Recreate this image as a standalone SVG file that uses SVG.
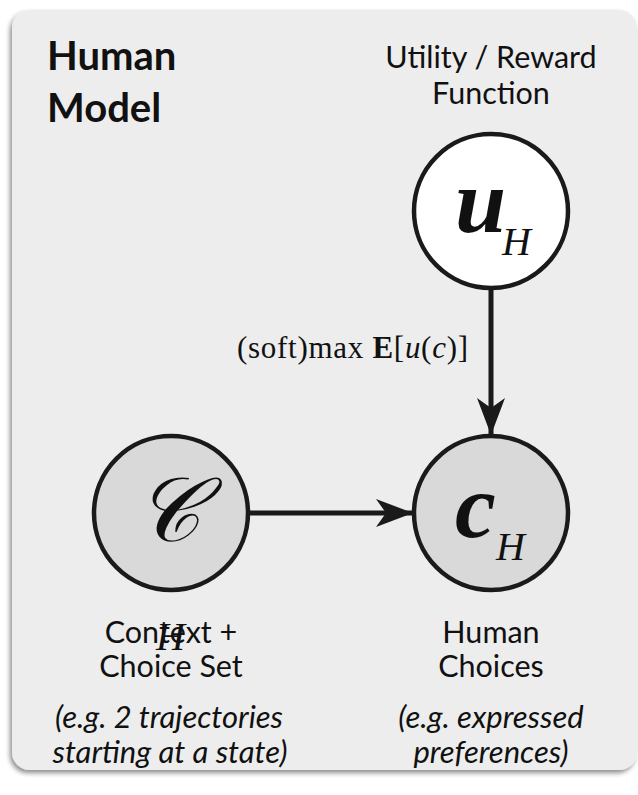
<svg xmlns="http://www.w3.org/2000/svg" width="638" height="795" viewBox="0 0 638 795">
  <defs>
    <filter id="panelShadow" x="-5%" y="-5%" width="110%" height="110%">
      <feGaussianBlur in="SourceAlpha" stdDeviation="2.5"/>
      <feOffset dx="-2" dy="3" result="blur"/>
      <feComponentTransfer><feFuncA type="linear" slope="0.45"/></feComponentTransfer>
      <feMerge><feMergeNode/><feMergeNode in="SourceGraphic"/></feMerge>
    </filter>
    <marker id="arrowHead" markerUnits="userSpaceOnUse" markerWidth="40" markerHeight="30" refX="37" refY="14" orient="auto">
      <path d="M37,14 L0,0 L10,14 L0,28 Z" fill="#1a1a1a"/>
    </marker>
  </defs>
  <style>
    .label { font-family: "Lato", "Liberation Sans", sans-serif; font-size: 30.5px; fill: #111; text-anchor: middle; }
    .note { font-family: "Lato", "Liberation Sans", sans-serif; font-size: 31px; font-style: italic; fill: #111; text-anchor: middle; }
    .title { font-family: "Lato", "Liberation Sans", sans-serif; font-size: 40px; font-weight: bold; fill: #111; }
    .math { font-family: "Liberation Serif", "DejaVu Serif", serif; fill: #111; }
    .node { stroke: #1a1a1a; stroke-width: 4.5; }
    .edge { stroke: #1a1a1a; stroke-width: 5; fill: none; marker-end: url(#arrowHead); }
  </style>

  <!-- panel -->
  <rect x="12" y="10" width="625" height="760" rx="18" ry="18" fill="#ededed" filter="url(#panelShadow)"/>

  <g id="title">
    <text class="title" x="47" y="70">Human</text>
    <text class="title" x="47" y="122">Model</text>
  </g>

  <!-- connectors -->
  <g id="connectors">
    <line class="edge" x1="491" y1="289" x2="491" y2="435"/>
    <line class="edge" x1="250" y1="513" x2="413" y2="513"/>
    <text class="math" x="237" y="358" font-size="31" textLength="231" lengthAdjust="spacing">(soft)max <tspan font-weight="bold">E</tspan>[<tspan font-style="italic">u</tspan>(<tspan font-style="italic">c</tspan>)]</text>
  </g>

  <g id="utility">
    <text class="label" x="491" y="68" font-size="29.5">Utility / Reward</text>
    <text class="label" x="491" y="104" font-size="29.5">Function</text>
    <circle class="node" cx="491" cy="211" r="77" fill="#ffffff"/>
    <text class="math" x="455" y="232" font-size="92" font-style="italic" font-weight="bold">u</text>
    <text class="math" x="502" y="255" font-size="40" font-style="italic">H</text>
  </g>

  <g id="context">
    <circle class="node" cx="171" cy="513" r="77" fill="#d9d9d9"/>
    <text class="math" x="168" y="541" font-size="90" font-style="italic" text-anchor="middle">𝒞</text>
    <text class="label" x="171" y="643">Context +</text>
    <text class="math" x="156" y="650" font-size="40" font-style="italic">H</text>
    <text class="label" x="171" y="677">Choice Set</text>
    <text class="note" x="169" y="728">(e.g. 2 trajectories</text>
    <text class="note" x="170" y="763">starting at a state)</text>
  </g>

  <g id="choices">
    <circle class="node" cx="491" cy="513" r="77" fill="#d9d9d9"/>
    <text class="math" x="455" y="537" font-size="92" font-style="italic" font-weight="bold">c</text>
    <text class="math" x="496" y="560" font-size="40" font-style="italic">H</text>
    <text class="label" x="491" y="643">Human</text>
    <text class="label" x="491" y="677">Choices</text>
    <text class="note" x="491" y="728">(e.g. expressed</text>
    <text class="note" x="491" y="763">preferences)</text>
  </g>
</svg>
